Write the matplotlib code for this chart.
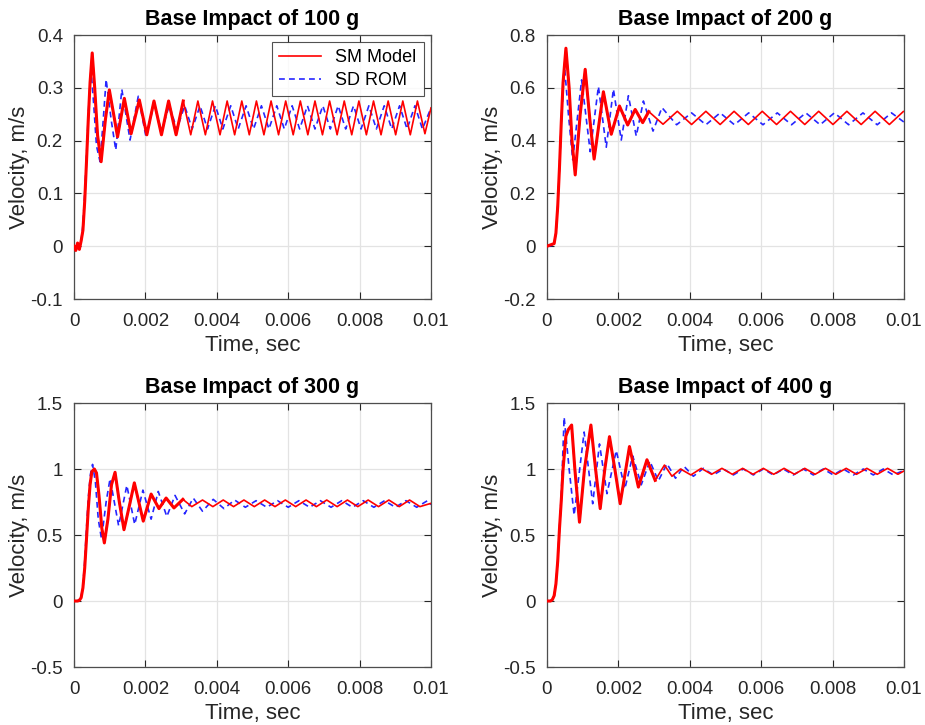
import numpy as np
import matplotlib
matplotlib.use("Agg")
from matplotlib import pyplot as plt

# ---- data (time in sec, velocity in m/s) ----
# 100 g
t_sm_100 = [0, 0.00005, 0.0001, 0.00015, 0.0002, 0.00025, 0.0003, 0.00035, 0.0004, 0.00045,
            0.00051, 0.00058, 0.00066, 0.00076, 0.00088, 0.00099, 0.00111, 0.00122, 0.00141, 0.0016,
            0.00183, 0.00204, 0.00224, 0.00245, 0.00265, 0.00286, 0.00306, 0.00327, 0.00347, 0.00368,
            0.00388, 0.00409, 0.00429, 0.0045, 0.0047, 0.00491, 0.00511, 0.00532, 0.00552, 0.00573,
            0.00593, 0.00614, 0.00634, 0.00655, 0.00675, 0.00696, 0.00716, 0.00737, 0.00757, 0.00778,
            0.00798, 0.00819, 0.00839, 0.0086, 0.0088, 0.00901, 0.00921, 0.00942, 0.00962, 0.00983, 0.01]
v_sm_100 = [0, -0.008, 0.006, -0.006, 0.01, 0.03, 0.085, 0.16, 0.24, 0.31,
            0.366, 0.30, 0.21, 0.16, 0.24, 0.296, 0.25, 0.207, 0.28, 0.213,
            0.277, 0.211, 0.275, 0.211, 0.275, 0.211, 0.275, 0.211, 0.275, 0.211,
            0.275, 0.211, 0.275, 0.211, 0.275, 0.211, 0.275, 0.211, 0.275, 0.211,
            0.275, 0.211, 0.275, 0.211, 0.275, 0.211, 0.275, 0.211, 0.275, 0.211,
            0.275, 0.211, 0.275, 0.211, 0.275, 0.211, 0.275, 0.211, 0.275, 0.213, 0.262]
t_rom_100 = [0, 0.0001, 0.0002, 0.00025, 0.0003, 0.00035, 0.0004, 0.000476, 0.00055, 0.00063,
             0.00073, 0.00082, 0.0009, 0.00104, 0.00117, 0.00134, 0.00157, 0.0018, 0.00202, 0.00224,
             0.00245, 0.00267, 0.00288, 0.0031, 0.00331, 0.00353, 0.00374, 0.00396, 0.00417, 0.00439,
             0.0046, 0.00482, 0.00503, 0.00525, 0.00546, 0.00568, 0.00589, 0.00611, 0.00632, 0.00654,
             0.00675, 0.00697, 0.00718, 0.0074, 0.00761, 0.00783, 0.00804, 0.00826, 0.00847, 0.00869,
             0.0089, 0.00912, 0.00933, 0.00955, 0.00976, 0.01]
v_rom_100 = [0, 0.0, 0.01, 0.04, 0.1, 0.17, 0.25, 0.335, 0.27, 0.19,
             0.16, 0.24, 0.316, 0.24, 0.182, 0.297, 0.201, 0.284, 0.206, 0.27,
             0.218, 0.267, 0.221, 0.266, 0.222, 0.266, 0.222, 0.266, 0.222, 0.266,
             0.222, 0.266, 0.222, 0.266, 0.222, 0.266, 0.222, 0.266, 0.222, 0.266,
             0.222, 0.266, 0.222, 0.266, 0.222, 0.266, 0.222, 0.266, 0.222, 0.266,
             0.222, 0.266, 0.222, 0.266, 0.222, 0.262]

# 200 g
t_sm_200 = [0, 0.0001, 0.0002, 0.00025, 0.0003, 0.00035, 0.0004, 0.00045, 0.00053, 0.00062,
            0.0007, 0.00079, 0.00093, 0.00107, 0.0012, 0.00132, 0.00158, 0.0018, 0.00203, 0.00226,
            0.00247, 0.00268, 0.00285, 0.00325, 0.00365, 0.00405, 0.00445, 0.00485, 0.00524, 0.00564,
            0.00603, 0.00643, 0.00682, 0.00722, 0.00761, 0.00801, 0.0084, 0.0088, 0.00919, 0.00959, 0.00998]
v_sm_200 = [0, 0.005, 0.01, 0.05, 0.15, 0.3, 0.47, 0.62, 0.75, 0.6,
            0.4, 0.27, 0.5, 0.67, 0.48, 0.33, 0.585, 0.424, 0.531, 0.459,
            0.518, 0.468, 0.51, 0.462, 0.511, 0.461, 0.511, 0.461, 0.511, 0.461,
            0.511, 0.461, 0.511, 0.461, 0.511, 0.461, 0.511, 0.461, 0.511, 0.461, 0.51]
t_rom_200 = [0, 0.0001, 0.0002, 0.00025, 0.0003, 0.00035, 0.0004, 0.00049, 0.0006, 0.00072,
             0.00097, 0.00121, 0.00144, 0.00166, 0.00186, 0.00208, 0.00228, 0.0025, 0.0027, 0.00297,
             0.00322, 0.00363, 0.00405, 0.00445, 0.00485, 0.00525, 0.00565, 0.00605, 0.00645, 0.00685,
             0.00725, 0.00765, 0.00805, 0.00845, 0.00885, 0.00925, 0.00965, 0.01]
v_rom_200 = [0, 0.0, 0.01, 0.05, 0.15, 0.3, 0.47, 0.683, 0.5, 0.327,
             0.63, 0.358, 0.605, 0.375, 0.595, 0.402, 0.57, 0.417, 0.55, 0.436,
             0.525, 0.46, 0.505, 0.46, 0.505, 0.46, 0.505, 0.46, 0.505, 0.46,
             0.505, 0.46, 0.505, 0.46, 0.505, 0.46, 0.505, 0.47]

# 300 g
t_sm_300 = [0, 0.0001, 0.00015, 0.0002, 0.00025, 0.0003, 0.00035, 0.0004, 0.00045, 0.0005,
            0.00057, 0.00063, 0.0007, 0.00078, 0.00085, 0.00095, 0.00105, 0.00115, 0.00127, 0.0014,
            0.00155, 0.00169, 0.00194, 0.00216, 0.00238, 0.00258, 0.0028, 0.00305, 0.0033, 0.0036,
            0.00389, 0.00418, 0.00447, 0.00476, 0.00505, 0.00534, 0.00563, 0.00592, 0.00621, 0.0065,
            0.00679, 0.00708, 0.00737, 0.00766, 0.00795, 0.00824, 0.00853, 0.00882, 0.00911, 0.0094,
            0.00969, 0.01]
v_sm_300 = [0, 0, 0.005, 0.025, 0.1, 0.25, 0.47, 0.7, 0.88, 0.98,
            1.0, 0.97, 0.8, 0.55, 0.44, 0.62, 0.88, 0.975, 0.75, 0.54,
            0.72, 0.895, 0.605, 0.81, 0.7, 0.78, 0.705, 0.77, 0.715, 0.765,
            0.715, 0.765, 0.715, 0.765, 0.715, 0.765, 0.715, 0.765, 0.715, 0.765,
            0.715, 0.765, 0.715, 0.765, 0.715, 0.765, 0.715, 0.765, 0.715, 0.765,
            0.715, 0.74]
t_rom_300 = [0, 0.0001, 0.0002, 0.00025, 0.0003, 0.00035, 0.0004, 0.00046, 0.00052, 0.0006,
             0.00068, 0.00077, 0.0009, 0.00101, 0.00125, 0.00148, 0.0017, 0.00193, 0.00216, 0.00236,
             0.0026, 0.00283, 0.0031, 0.00334, 0.0036, 0.0039, 0.0042, 0.0045, 0.0048, 0.0051,
             0.0054, 0.0057, 0.006, 0.0063, 0.0066, 0.0069, 0.0072, 0.0075, 0.0078, 0.0081,
             0.0084, 0.0087, 0.009, 0.0093, 0.0096, 0.0099, 0.01]
v_rom_300 = [0, 0, 0.03, 0.12, 0.3, 0.55, 0.78, 0.96, 1.035, 0.9,
             0.62, 0.47, 0.75, 0.927, 0.57, 0.876, 0.58, 0.84, 0.62, 0.83,
             0.64, 0.8, 0.66, 0.78, 0.68, 0.77, 0.7, 0.765, 0.71, 0.76,
             0.71, 0.76, 0.71, 0.76, 0.71, 0.76, 0.71, 0.76, 0.71, 0.76,
             0.71, 0.76, 0.71, 0.76, 0.71, 0.76, 0.73]

# 400 g
t_sm_400 = [0, 0.0001, 0.00015, 0.0002, 0.00025, 0.0003, 0.00035, 0.0004, 0.00045, 0.00053,
            0.0006, 0.00069, 0.00078, 0.00091, 0.00105, 0.00123, 0.00136, 0.00149, 0.00162, 0.00175,
            0.0019, 0.00205, 0.00231, 0.00256, 0.0028, 0.00303, 0.00329, 0.0035, 0.00374, 0.00403,
            0.00432, 0.00461, 0.0049, 0.00519, 0.00548, 0.00577, 0.00606, 0.00635, 0.00664, 0.00693,
            0.00722, 0.00751, 0.0078, 0.00809, 0.00838, 0.00867, 0.00896, 0.00925, 0.00954, 0.00983, 0.01]
v_sm_400 = [0, 0, 0.01, 0.04, 0.13, 0.3, 0.55, 0.76, 1.0, 1.25,
            1.3, 1.333, 1.0, 0.597, 1.0, 1.333, 1.0, 0.70, 1.0, 1.245,
            1.0, 0.737, 1.17, 0.863, 1.07, 0.914, 1.03, 0.945, 1.0, 0.955,
            1.005, 0.96, 1.005, 0.96, 1.005, 0.96, 1.005, 0.96, 1.005, 0.96,
            1.005, 0.96, 1.005, 0.96, 1.005, 0.96, 1.005, 0.96, 1.005, 0.96, 0.985]
t_rom_400 = [0, 0.0001, 0.0002, 0.00025, 0.0003, 0.00035, 0.0004, 0.00048, 0.00062, 0.00076,
             0.00104, 0.00128, 0.00147, 0.00168, 0.00194, 0.00218, 0.0024, 0.00264, 0.00288, 0.00312,
             0.00336, 0.0036, 0.00384, 0.0041, 0.00438, 0.00466, 0.00494, 0.00522, 0.0055, 0.00578,
             0.00606, 0.00634, 0.00662, 0.0069, 0.00718, 0.00746, 0.00774, 0.00802, 0.0083, 0.00858,
             0.00886, 0.00914, 0.00942, 0.0097, 0.01]
v_rom_400 = [0, 0.0, 0.03, 0.12, 0.3, 0.55, 0.8, 1.392, 1.0, 0.65,
             1.28, 0.737, 1.19, 0.813, 1.14, 0.85, 1.1, 0.88, 1.06, 0.91,
             1.04, 0.93, 1.02, 0.945, 1.005, 0.955, 1.0, 0.955, 1.0, 0.955,
             1.0, 0.955, 1.0, 0.955, 1.0, 0.955, 1.0, 0.955, 1.0, 0.955,
             1.0, 0.955, 1.0, 0.955, 0.99]

titles = ["Base Impact of 100 g", "Base Impact of 200 g", "Base Impact of 300 g", "Base Impact of 400 g"]
ylims = [(-0.1, 0.4), (-0.2, 0.8), (-0.5, 1.5), (-0.5, 1.5)]
ysteps = [0.1, 0.2, 0.5, 0.5]
series = [(t_sm_100, v_sm_100, t_rom_100, v_rom_100),
          (t_sm_200, v_sm_200, t_rom_200, v_rom_200),
          (t_sm_300, v_sm_300, t_rom_300, v_rom_300),
          (t_sm_400, v_sm_400, t_rom_400, v_rom_400)]

plt.rcParams['font.family'] = ['Liberation Sans', 'DejaVu Sans']
dark = '#262626'

fig = plt.figure(figsize=(9.25, 7.25), dpi=100)
W, H = 925.0, 725.0
boxes = [(74, 35), (547, 35), (74, 403), (547, 403)]
aw, ah = 357, 264

for i, (x0, y0) in enumerate(boxes):
    ax = fig.add_axes([x0 / W, 1 - (y0 + ah) / H, aw / W, ah / H])
    ts, vs, tr, vr = series[i]
    ts = np.array(ts); vs = np.array(vs)
    ax.plot(ts, vs, color='#ff0000', lw=1.2, label='SM Model', zorder=3)
    early = ts <= 0.0031
    ax.plot(ts[early], vs[early], color='#ff0000', lw=2.2, zorder=3)
    ax.plot(tr, vr, color='#0000ff', lw=1.2, ls=(0, (3.5, 2.5)), label='SD ROM', zorder=2, alpha=0.85)

    ax.set_xlim(0, 0.01)
    ax.set_ylim(*ylims[i])
    ax.set_xticks(np.arange(0, 0.0101, 0.002))
    ax.set_xticklabels(['0', '0.002', '0.004', '0.006', '0.008', '0.01'])
    lo, hi = ylims[i]
    yt = np.round(np.arange(lo, hi + 1e-9, ysteps[i]), 3)
    ax.set_yticks(yt)
    ax.set_yticklabels(['%g' % (0 if abs(v) < 1e-9 else v) for v in yt])
    ax.grid(True, color='#e3e3e3', lw=0.9)
    ax.set_axisbelow(True)
    ax.tick_params(direction='in', length=5, width=0.8, top=True, right=True,
                   labelsize=13.5, colors=dark)
    ax.tick_params(axis='x', pad=10)
    ax.tick_params(axis='y', pad=8)
    for s in ax.spines.values():
        s.set_color('#4d4d4d')
        s.set_linewidth(0.9)
    ax.set_xlabel('Time, sec', fontsize=16, color=dark, labelpad=4)
    ax.set_ylabel('Velocity, m/s', fontsize=16, color=dark, labelpad=0)
    ax.set_title(titles[i], fontsize=15.5, fontweight='bold', color='black', pad=7)

    if i == 0:
        leg = ax.legend(loc='upper right', fontsize=13, frameon=True, fancybox=False,
                        handlelength=2.3, borderaxespad=0.4, labelspacing=0.3)
        leg.get_frame().set_edgecolor('#262626')
        leg.get_frame().set_linewidth(0.8)
        for h in leg.get_lines():
            h.set_linewidth(1.2)

fig.savefig('out.png', dpi=100)
